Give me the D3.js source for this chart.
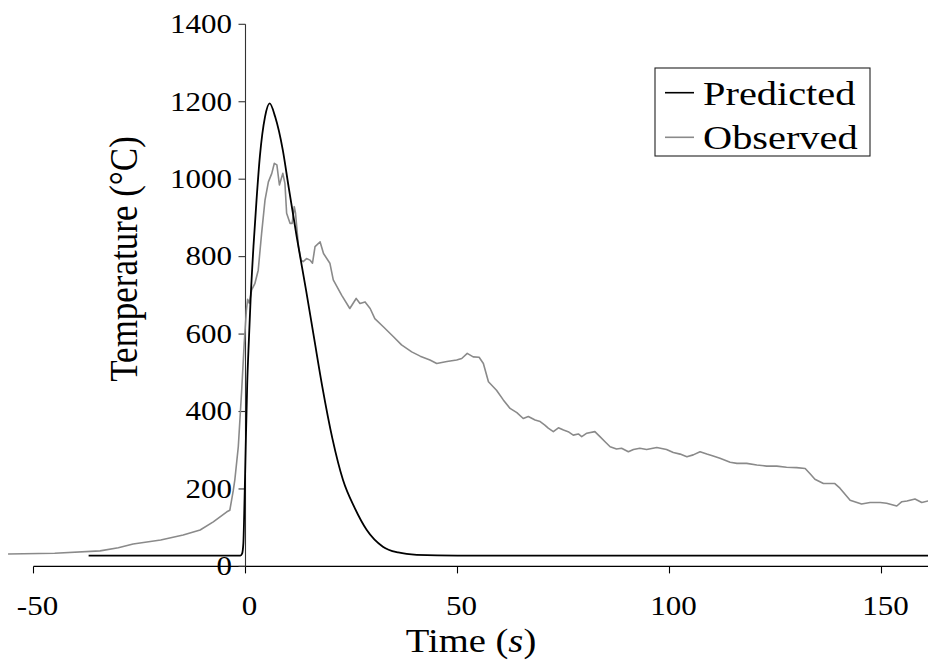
<!DOCTYPE html>
<html>
<head>
<meta charset="utf-8">
<script src="https://cdn.jsdelivr.net/npm/d3@7/dist/d3.min.js"></script>
<style>
  html, body { margin: 0; padding: 0; background: #fff; }
  svg { display: block; }
  text { font-family: "Liberation Serif", "Times New Roman", serif; fill: #000; }
</style>
</head>
<body>
<svg id="chart" width="928" height="666"></svg>
<script>
// ---- data ----
const xTicks = [-50, 0, 50, 100, 150];
const yTicks = [0, 200, 400, 600, 800, 1000, 1200, 1400];
const seriesNames = ["Predicted", "Observed"];

const predictedTime = [-37, -1.2, -0.8, -0.5, -0.3, 0.05, 0.4, 0.8, 1.2, 1.9, 2.6, 3.4, 4.6, 5.7, 7.0, 8.8, 10.1, 12.1, 14.3, 16.2, 18.1, 20.5, 23.0, 25.8, 28.6, 32.4, 36.0, 40.4, 50, 100, 161];
const predictedTemp = [28, 28, 33, 60, 137, 309, 470, 585, 689, 830, 946, 1060, 1161, 1196, 1161, 1075, 985, 850, 712, 588, 465, 330, 223, 150, 94, 51, 36, 30, 28, 28, 28];

const observedTime = [-56, -45, -34.3, -30, -26.5, -20, -14.7, -10.7, -7.6, -4.4, -3.7, -2.9, -2.5, -1.7, -0.9, -0.3, 0.2, 0.5, 0.9, 1.46, 2.2, 3.0, 3.8, 4.6, 5.4, 6.2, 6.8, 7.4, 8.0, 8.8, 9.3, 9.7, 10.5, 11.0, 11.5, 11.8, 12.5, 13.1, 13.6, 14.4, 15.2, 15.8, 16.4, 17.6, 18.4, 19.9, 20.7, 22.7, 24.6, 26.1, 27.0, 28.2, 29.4, 30.5, 32.5, 34.9, 36.8, 39.2, 41.2, 43.5, 45.1, 47.5, 49.8, 51.0, 52.3, 53.7, 55.1, 56.1, 57.3, 59.2, 60.8, 62.4, 64.0, 65.5, 66.7, 68.3,
  69.5, 70.6, 71.4, 72.6, 73.8, 75.0, 76.1, 77.3, 78.5, 79.3, 80.5, 82.4, 83.6, 84.8, 86.0, 87.5, 88.7, 90.3, 91.5, 93.0, 94.6, 97.0, 99.3, 100.9, 102.5, 104.1, 105.6, 107.2, 108.8, 110.3, 111.9, 114.3, 115.9, 118.2, 120.6, 122.9, 125.3, 127.6, 130.0, 132.0, 133.1, 134.3, 136.3, 139.0, 140.2, 142.6, 145.3, 147.3, 149.7, 151.2, 153.6, 154.8, 156.0, 157.9, 159.5, 161];
const observedTemp = [32, 34, 40, 48, 58, 68, 81, 94, 115, 141, 145, 195, 225, 309, 455, 577, 660, 690, 680, 714, 730, 765, 860, 946, 993, 1015, 1041, 1037, 985, 1015, 989, 912, 886, 886, 929, 912, 826, 791, 787, 795, 791, 783, 826, 838, 808, 783, 740, 700, 666, 692, 679, 683, 666, 640, 619, 593, 572, 554, 543, 533, 524, 529, 533, 537, 550, 541, 540, 524, 477, 455, 430, 408, 397, 382, 387, 378,
  374, 365, 357, 348, 358, 352, 348, 339, 342, 335, 344, 348, 335, 322, 309, 303, 305, 296, 302, 305, 302, 307, 302, 294, 290, 283, 288, 296, 290, 285, 279, 269, 266, 266, 262, 259, 259, 256, 255, 253, 240, 225, 214, 214, 202, 171, 161, 165, 165, 163, 156, 167, 169, 174, 165, 169];

// ---- layout ----
const svg = d3.select("#chart");
const W = 928;
const SX = 1.17; // horizontal stretch of the reference's lettering

const x = d3.scaleLinear().domain([-50, 150]).range([33.5, 881.5]);
const y = d3.scaleLinear().domain([0, 1400]).range([566.4, 24.3]);

const predicted = predictedTime.map((t, i) => [t, predictedTemp[i]]);
const observed = observedTime.map((t, i) => [t, observedTemp[i]]);

// ---- axes ----
const xAxisG = svg.append("g");
xAxisG.append("line")
  .attr("x1", x(-50)).attr("x2", W)
  .attr("y1", y(0)).attr("y2", y(0))
  .attr("stroke", "#000").attr("stroke-width", 1.1);
xAxisG.selectAll("line.tick").data(xTicks).join("line")
  .attr("class", "tick")
  .attr("x1", d => x(d)).attr("x2", d => x(d))
  .attr("y1", y(0)).attr("y2", y(0) + 7)
  .attr("stroke", "#000").attr("stroke-width", 1.1);
xAxisG.selectAll("text").data(xTicks).join("text")
  .attr("transform", d => `translate(${x(d) + 4},615) scale(${SX},1)`)
  .attr("text-anchor", "middle")
  .attr("font-size", 26.5)
  .text(d => d);

const yAxisG = svg.append("g");
yAxisG.append("line")
  .attr("x1", x(0)).attr("x2", x(0))
  .attr("y1", y(1400)).attr("y2", y(0))
  .attr("stroke", "#333").attr("stroke-width", 1.1);
yAxisG.selectAll("line.tick").data(yTicks).join("line")
  .attr("class", "tick")
  .attr("x1", x(0) - 7).attr("x2", x(0))
  .attr("y1", d => y(d)).attr("y2", d => y(d))
  .attr("stroke", "#333").attr("stroke-width", 1.1);
yAxisG.selectAll("text").data(yTicks).join("text")
  .attr("transform", d => `translate(232,${y(d) + 8.8}) scale(${SX},1)`)
  .attr("text-anchor", "end")
  .attr("font-size", 26.5)
  .text(d => d);

// axis titles
const xt = svg.append("text")
  .attr("transform", `translate(471,651.5) scale(${SX},1)`)
  .attr("text-anchor", "middle")
  .attr("font-size", 33);
xt.append("tspan").text("Time (");
xt.append("tspan").attr("font-style", "italic").text("s");
xt.append("tspan").text(")");

svg.append("text")
  .attr("transform", `translate(137,259) scale(${SX},1) rotate(-90)`)
  .attr("text-anchor", "middle")
  .attr("font-size", 35)
  .text("Temperature (\u00B0C)");

// ---- lines ----
svg.append("path")
  .datum(observed)
  .attr("d", d3.line().x(d => x(d[0])).y(d => y(d[1])).curve(d3.curveLinear))
  .attr("fill", "none")
  .attr("stroke", "#8a8a8a")
  .attr("stroke-width", 1.6)
  .attr("stroke-linejoin", "round");

svg.append("path")
  .datum(predicted)
  .attr("d", d3.line().x(d => x(d[0])).y(d => y(d[1])).curve(d3.curveMonotoneX))
  .attr("fill", "none")
  .attr("stroke", "#000")
  .attr("stroke-width", 1.8)
  .attr("stroke-linejoin", "round");

// ---- legend ----
const lg = svg.append("g");
lg.append("rect")
  .attr("x", 655).attr("y", 68).attr("width", 215).attr("height", 88)
  .attr("fill", "#fff").attr("stroke", "#222").attr("stroke-width", 1.1);
const legendColors = ["#000", "#8a8a8a"];
const legendY = [92.7, 137.3];
seriesNames.forEach((name, i) => {
  lg.append("line")
    .attr("x1", 665).attr("x2", 694)
    .attr("y1", legendY[i]).attr("y2", legendY[i])
    .attr("stroke", legendColors[i]).attr("stroke-width", 1.6);
  lg.append("text")
    .attr("transform", `translate(703,${legendY[i] + 12}) scale(${SX},1)`)
    .attr("font-size", 34.5)
    .text(name);
});
</script>
</body>
</html>
